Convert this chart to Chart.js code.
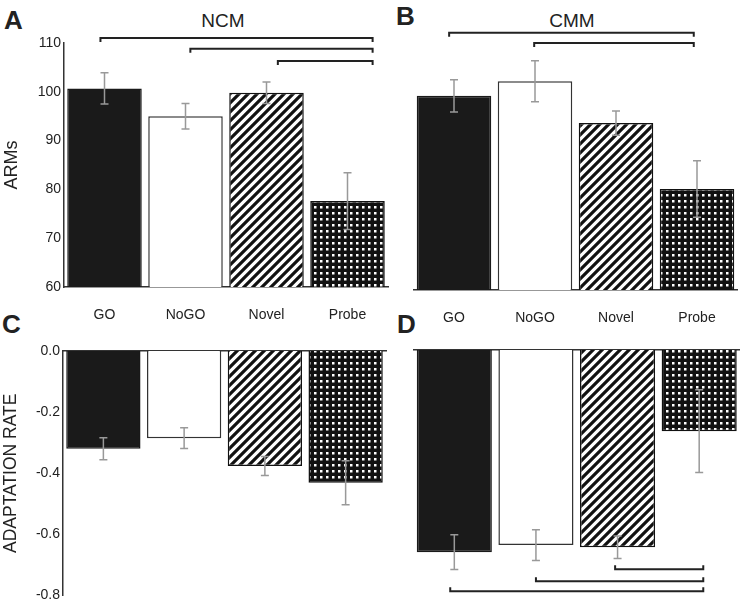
<!DOCTYPE html>
<html>
<head>
<meta charset="utf-8">
<script src="https://cdn.jsdelivr.net/npm/chart.js@4.4.1/dist/chart.umd.min.js"></script>
<style>
  body { margin: 0; background: #fff; width: 740px; height: 607px; overflow: hidden; position: relative;
         font-family: "Liberation Sans", Arial, sans-serif; color: #222; }
  .box { position: absolute; }
  .lbl { position: absolute; line-height: 1; white-space: nowrap; }
  .letter { font-weight: bold; font-size: 26px; }
  .ttl { font-size: 19px; transform: translateX(-50%); }
</style>
</head>
<body>
<div class="lbl letter" style="left:4px;top:7px">A</div>
<div class="lbl letter" style="left:396px;top:3px">B</div>
<div class="lbl letter" style="left:2px;top:311px">C</div>
<div class="lbl letter" style="left:397px;top:311px">D</div>
<div class="lbl ttl" style="left:223px;top:11px">NCM</div>
<div class="lbl ttl" style="left:572px;top:11px">CMM</div>

<div class="box" style="left:0;top:0"><canvas id="chartA" width="400" height="340"></canvas></div>
<div class="box" style="left:400px;top:0"><canvas id="chartB" width="340" height="340"></canvas></div>
<div class="box" style="left:0;top:300px"><canvas id="chartC" width="400" height="307"></canvas></div>
<div class="box" style="left:400px;top:300px"><canvas id="chartD" width="340" height="307"></canvas></div>

<script>
// valores
const categories = ['GO', 'NoGO', 'Novel', 'Probe'];

const ncmArms = [100.7, 95.0, 99.8, 77.6];
const ncmArmsErr = [3.2, 2.6, 2.2, 5.8];
const cmmArms = [99.8, 102.8, 94.2, 80.7];
const cmmArmsErr = [3.3, 4.2, 2.5, 5.8];

const ncmRate = [-0.32, -0.285, -0.376, -0.431];
const ncmRateErr = [0.036, 0.034, 0.031, 0.072];
const cmmRate = [-0.66, -0.637, -0.644, -0.265];
const cmmRateErr = [0.057, 0.05, 0.037, 0.135];

const armTicks = [60, 70, 80, 90, 100, 110];
const rateTicks = [-0.8, -0.6, -0.4, -0.2, 0.0];

// comparaciones significativas: [desde, hasta, nivel]
const ncmArmsBrackets = [[-0.05, 3.31, 111.0], [1.06, 3.31, 108.8], [2.14, 3.31, 106.3]];
const cmmArmsBrackets = [[-0.06, 2.96, 112.7], [0.99, 2.96, 110.6]];
const cmmRateBrackets = [[1.97, 3.05, -0.716], [1.0, 3.05, -0.755], [-0.05, 3.05, -0.788]];

Chart.defaults.font.family = '"Liberation Sans", Arial, sans-serif';
Chart.defaults.color = '#222';

function stripes() {
  const c = document.createElement('canvas');
  c.width = 9; c.height = 9;
  const g = c.getContext('2d');
  g.fillStyle = '#fff';
  g.fillRect(0, 0, 9, 9);
  g.strokeStyle = '#111';
  g.lineWidth = 3.2;
  g.beginPath();
  g.moveTo(-1, 10); g.lineTo(10, -1);
  g.moveTo(-5.5, 5.5); g.lineTo(5.5, -5.5);
  g.moveTo(3.5, 14.5); g.lineTo(14.5, 3.5);
  g.stroke();
  return g.createPattern(c, 'repeat');
}

function dots() {
  const c = document.createElement('canvas');
  c.width = 6; c.height = 6;
  const g = c.getContext('2d');
  g.fillStyle = '#111';
  g.fillRect(0, 0, 6, 6);
  g.fillStyle = '#fff';
  g.fillRect(2, 2, 2.5, 2.5);
  return g.createPattern(c, 'repeat');
}

const fills = ['#1a1a1a', '#ffffff', stripes(), dots()];
const borders = ['#1a1a1a', '#333', '#111', '#111'];

const errorBars = {
  id: 'errorBars',
  afterDatasetsDraw(chart, args, opts) {
    const ctx = chart.ctx;
    const meta = chart.getDatasetMeta(0);
    const y = chart.scales.y;
    const vals = chart.data.datasets[0].data;
    ctx.save();
    ctx.strokeStyle = '#999';
    ctx.lineWidth = 1.5;
    meta.data.forEach((bar, i) => {
      const top = y.getPixelForValue(vals[i] + opts.err[i]);
      const bot = y.getPixelForValue(vals[i] - opts.err[i]);
      ctx.beginPath();
      ctx.moveTo(bar.x, top); ctx.lineTo(bar.x, bot);
      ctx.moveTo(bar.x - 4, top); ctx.lineTo(bar.x + 4, top);
      ctx.moveTo(bar.x - 4, bot); ctx.lineTo(bar.x + 4, bot);
      ctx.stroke();
    });
    ctx.restore();
  }
};

const brackets = {
  id: 'brackets',
  afterDraw(chart, args, opts) {
    if (!opts.items) return;
    const ctx = chart.ctx;
    const x = chart.scales.x, y = chart.scales.y;
    ctx.save();
    ctx.strokeStyle = '#222';
    ctx.lineWidth = 2;
    opts.items.forEach(b => {
      const x1 = x.getPixelForValue(b[0]);
      const x2 = x.getPixelForValue(b[1]);
      const yy = y.getPixelForValue(b[2]);
      const t = 4 * opts.dir;
      ctx.beginPath();
      ctx.moveTo(x1, yy + t); ctx.lineTo(x1, yy); ctx.lineTo(x2, yy); ctx.lineTo(x2, yy + t);
      ctx.stroke();
    });
    ctx.restore();
  }
};

function panel(id, values, err, ticks, cfg) {
  const axisBorder = { color: '#333', width: 1.5 };
  new Chart(document.getElementById(id), {
    type: 'bar',
    data: {
      labels: categories,
      datasets: [{
        data: values,
        backgroundColor: fills,
        borderColor: borders,
        borderWidth: 1.5,
        categoryPercentage: 1,
        barPercentage: 0.92
      }]
    },
    options: {
      responsive: false,
      animation: false,
      devicePixelRatio: 1,
      layout: { padding: cfg.padding },
      plugins: {
        legend: { display: false },
        tooltip: { enabled: false },
        errorBars: { err: err },
        brackets: { items: cfg.brackets, dir: cfg.dir }
      },
      scales: {
        x: {
          position: cfg.xPos,
          grid: { display: false, drawTicks: false },
          border: axisBorder,
          ticks: { display: cfg.xLabels, padding: 20, font: { size: 14 }, color: '#222' },
          afterFit: s => { s.height = cfg.xLabels ? 40 : 0; }
        },
        y: {
          display: cfg.yAxis,
          min: ticks[0],
          max: ticks[ticks.length - 1],
          grid: { display: false, drawTicks: false },
          border: axisBorder,
          ticks: {
            stepSize: ticks[1] - ticks[0],
            padding: 3,
            font: { size: 14 },
            color: '#222',
            callback: v => cfg.decimals ? v.toFixed(cfg.decimals) : v
          },
          title: {
            display: !!cfg.yTitle,
            text: cfg.yTitle,
            font: { size: cfg.yTitleSize },
            color: '#222',
            padding: { top: 1, bottom: 0 }
          },
          afterFit: s => { s.width = cfg.yWidth; }
        }
      }
    },
    plugins: [errorBars, brackets]
  });
}

panel('chartA', ncmArms, ncmArmsErr, armTicks, {
  padding: { left: 0, top: 43, right: 12, bottom: 13 },
  xPos: 'bottom', xLabels: true, yAxis: true, yWidth: 64,
  yTitle: 'ARMs', yTitleSize: 18, decimals: 0,
  brackets: ncmArmsBrackets, dir: 1
});

panel('chartB', cmmArms, cmmArmsErr, armTicks, {
  padding: { left: 13.5, top: 46, right: 2.5, bottom: 10 },
  xPos: 'bottom', xLabels: true, yAxis: false, yWidth: 0,
  yTitle: '', yTitleSize: 18, decimals: 0,
  brackets: cmmArmsBrackets, dir: 1
});

panel('chartC', ncmRate, ncmRateErr, rateTicks, {
  padding: { left: 0, top: 51, right: 14, bottom: 11 },
  xPos: 'top', xLabels: false, yAxis: true, yWidth: 63,
  yTitle: 'ADAPTATION RATE', yTitleSize: 17.5, decimals: 1,
  brackets: null, dir: 1
});

panel('chartD', cmmRate, cmmRateErr, rateTicks, {
  padding: { left: 13.5, top: 50, right: 0, bottom: 12 },
  xPos: 'top', xLabels: false, yAxis: false, yWidth: 0,
  yTitle: '', yTitleSize: 17.5, decimals: 1,
  brackets: cmmRateBrackets, dir: -1
});
</script>
</body>
</html>
